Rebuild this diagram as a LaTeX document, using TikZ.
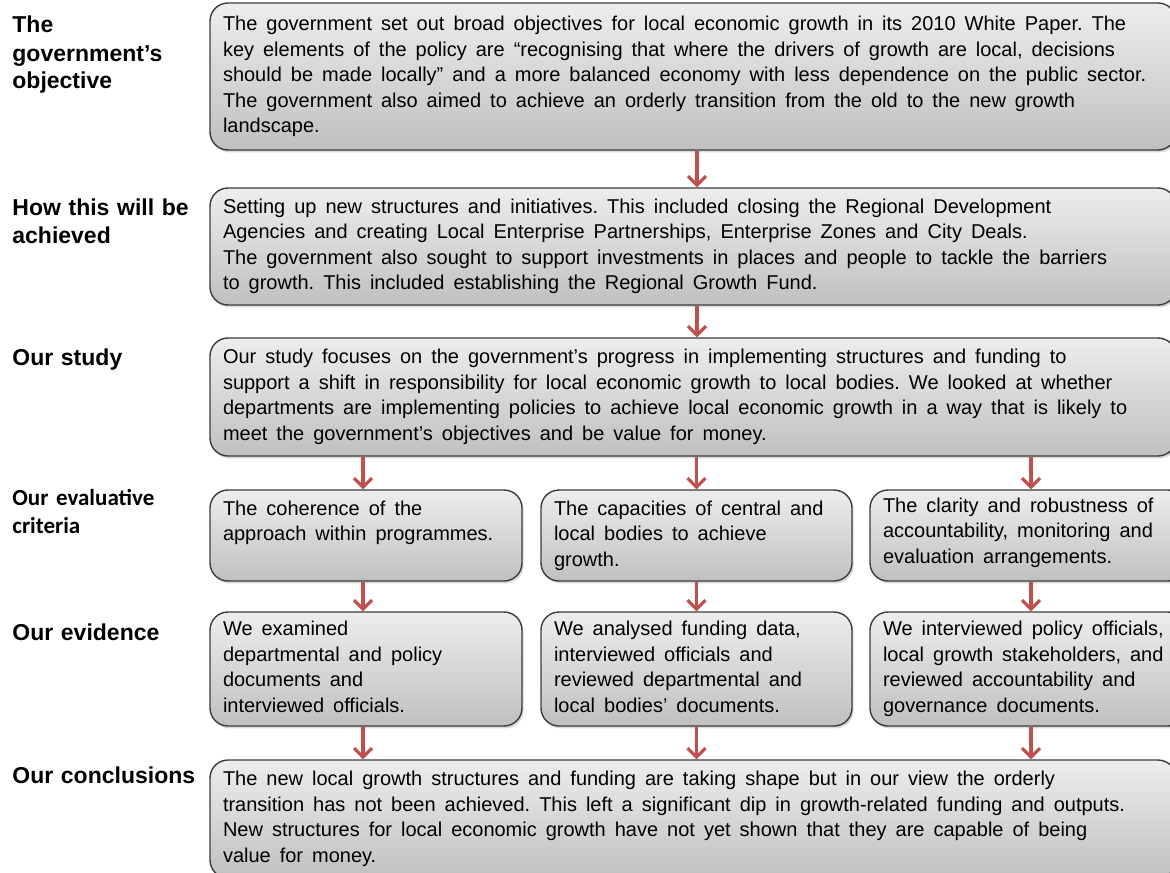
\documentclass[tikz,border=0pt]{standalone}
\usepackage{fontspec}
\setmainfont{Liberation Sans}
\newfontfamily\critfamily{Carlito}
\usetikzlibrary{arrows.meta,shadows}
\definecolor{boxtop}{RGB}{237,237,237}
\definecolor{boxbottom}{RGB}{192,192,192}
\definecolor{boxline}{RGB}{60,60,60}
\definecolor{arrowred}{RGB}{192,80,77}
\newcommand{\panelfont}{\fontsize{10pt}{12.75pt}\selectfont}
\newcommand{\headfont}{\fontsize{11.5pt}{14pt}\selectfont\bfseries}

\begin{document}
\begin{tikzpicture}[x=0.5pt,y=-0.5pt,
    panel/.style={draw=boxline,line width=0.7pt,rounded corners=9pt,top color=boxtop,bottom color=boxbottom,
      drop shadow={shadow xshift=0.8pt,shadow yshift=-1.2pt,opacity=0.3},
      align=left,inner xsep=6.5pt,inner ysep=0pt,font=\panelfont,
      execute at begin node={\spaceskip=4.5pt\xspaceskip=4.5pt\relax\strut},execute at end node=\strut},
    widepanel/.style={panel,minimum width=483pt,text width=470pt},
    rowhead/.style={anchor=base west,inner sep=0pt,text width=100pt,align=left,font=\headfont},
    flowarrow/.style={draw=arrowred,line width=1.6pt,-{Straight Barb[length=4.5pt,width=9pt]}}]
        \useasboundingbox (0,0) rectangle (1170,872);
        % row headings
        \node[rowhead] (hobjective) at (12,33) {The\\government’s\\objective};
        \node[rowhead] (hachieve) at (12,215) {How this will be\\achieved};
        \node[rowhead] (hstudy) at (12,365) {Our study};
        \node[rowhead,font=\fontsize{11.5pt}{14pt}\selectfont\critfamily\bfseries] (hcriteria) at (12,505) {Our evaluative\\criteria};
        \node[rowhead] (hevidence) at (12,640) {Our evidence};
        \node[rowhead] (hconclusions) at (12,783) {Our conclusions};
        % wide panels
        \node[widepanel,minimum height=73.5pt] (objective) at (693,76.5) {The government set out broad objectives for local economic growth in its 2010 White Paper. The\\key elements of the policy are “recognising that where the drivers of growth are local, decisions\\should be made locally” and a more balanced economy with less dependence on the public sector.\\The government also aimed to achieve an orderly transition from the old to the new growth\\landscape.};
        \node[widepanel,minimum height=58.5pt] (achieve) at (693,246.5) {Setting up new structures and initiatives. This included closing the Regional Development\\Agencies and creating Local Enterprise Partnerships, Enterprise Zones and City Deals.\\The government also sought to support investments in places and people to tackle the barriers\\to growth. This included establishing the Regional Growth Fund.};
        \node[widepanel,minimum height=59pt] (study) at (693,397) {Our study focuses on the government’s progress in implementing structures and funding to\\support a shift in responsibility for local economic growth to local bodies. We looked at whether\\departments are implementing policies to achieve local economic growth in a way that is likely to\\meet the government’s objectives and be value for money.};
        % criteria
        \node[panel,minimum width=156pt,text width=143pt,minimum height=45.5pt] (critA) at (366,535.5) {The coherence of the\\approach within programmes.\\ \mbox{}};
        \node[panel,minimum width=155.5pt,text width=142.5pt,minimum height=45.5pt] (critB) at (696.5,535.5) {The capacities of central and\\local bodies to achieve\\growth.};
        \node[panel,minimum width=158pt,text width=145pt,minimum height=45.5pt] (critC) at (1028,535.5) {The clarity and robustness of\\accountability, monitoring and\\evaluation arrangements.\\[-10pt]\mbox{}};
        % evidence
        \node[panel,minimum width=156pt,text width=143pt,minimum height=57pt] (evidA) at (366,669) {We examined\\departmental and policy\\documents and\\interviewed officials.};
        \node[panel,minimum width=155.5pt,text width=142.5pt,minimum height=57pt] (evidB) at (696.5,669) {We analysed funding data,\\interviewed officials and\\reviewed departmental and\\local bodies’ documents.};
        \node[panel,minimum width=158pt,text width=145pt,minimum height=57pt] (evidC) at (1028,669) {We interviewed policy officials,\\local growth stakeholders, and\\reviewed accountability and\\governance documents.};
        % conclusions
        \node[widepanel,minimum height=59pt] (concl) at (693,819) {The new local growth structures and funding are taking shape but in our view the orderly\\transition has not been achieved. This left a significant dip in growth-related funding and outputs.\\New structures for local economic growth have not yet shown that they are capable of being\\value for money.};
        % arrows
        \draw[flowarrow] ([xshift=2pt]objective.south) -- ([xshift=2pt]achieve.north);
        \draw[flowarrow] ([xshift=2pt]achieve.south) -- ([xshift=2pt]study.north);
        \draw[flowarrow] ([xshift=-1.5pt]critA.north |- study.south) -- ([xshift=-1.5pt]critA.north);
        \draw[flowarrow] (critB.north |- study.south) -- (critB.north);
        \draw[flowarrow] ([xshift=1.5pt]critC.north |- study.south) -- ([xshift=1.5pt]critC.north);
        \draw[flowarrow] ([xshift=-1.5pt]critA.south) -- ([xshift=-1.5pt]evidA.north);
        \draw[flowarrow] (critB.south) -- (evidB.north);
        \draw[flowarrow] ([xshift=1.5pt]critC.south) -- ([xshift=1.5pt]evidC.north);
        \draw[flowarrow] ([xshift=-1.5pt]evidA.south) -- ([xshift=-1.5pt]evidA.south |- concl.north);
        \draw[flowarrow] (evidB.south) -- (evidB.south |- concl.north);
        \draw[flowarrow] ([xshift=1.5pt]evidC.south) -- ([xshift=1.5pt]evidC.south |- concl.north);
\end{tikzpicture}
\end{document}
